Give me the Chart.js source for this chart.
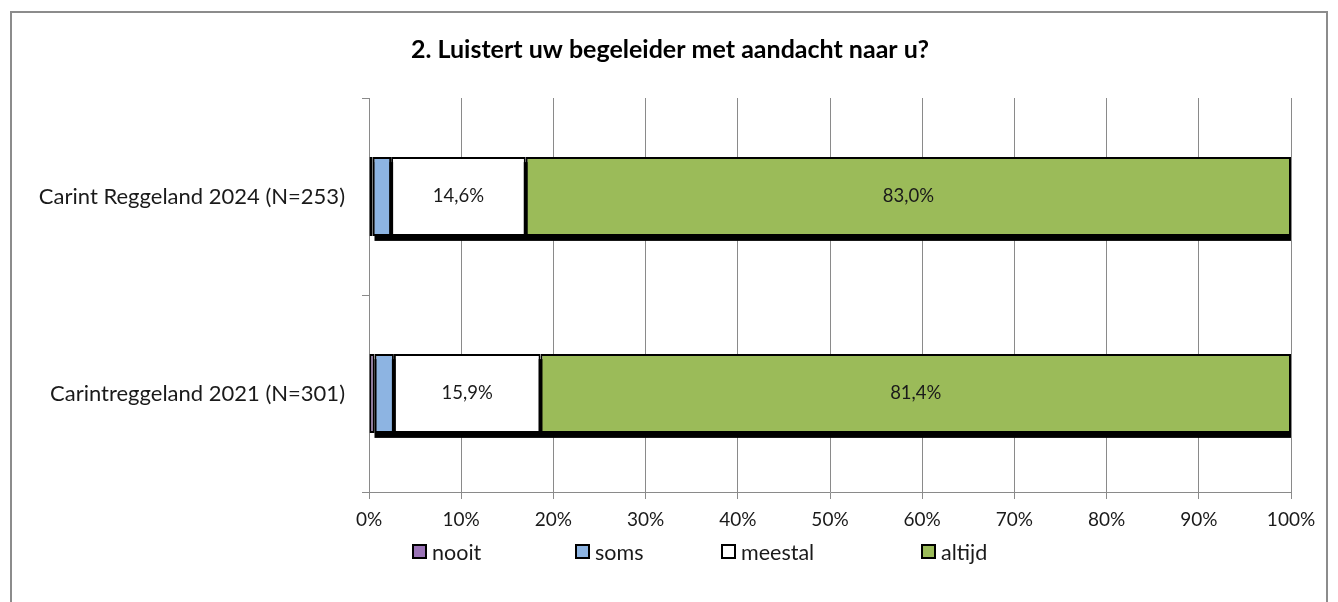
<!DOCTYPE html>
<html>
<head>
<meta charset="utf-8">
<script src="https://cdn.jsdelivr.net/npm/chart.js@4.4.1/dist/chart.umd.min.js"></script>
<style>
    html, body { margin: 0; padding: 0; background: #fff; }
    #wrap { position: relative; width: 1338px; height: 602px; overflow: hidden; }
    #frame { position: absolute; left: 10px; top: 11px; width: 1318px; height: 620px; border: 2px solid #8c8c8c; box-sizing: border-box; }
    canvas { position: absolute; left: 0; top: 0; }
</style>
</head>
<body>
<div id="wrap">
    <div id="frame"></div>
    <canvas id="chart" width="1338" height="602"></canvas>
</div>
<script>
// Chart data
const chartTitle = '2. Luistert uw begeleider met aandacht naar u?';
const categories = ['Carint Reggeland 2024 (N=253)', 'Carintreggeland 2021 (N=301)'];
const seriesNames = ['nooit', 'soms', 'meestal', 'altijd'];
const nooit = [0.4, 0.6];
const soms = [2.0, 2.1];
const meestal = [14.6, 15.9];
const altijd = [83.0, 81.4];
const seriesColors = ['#9a73b6', '#8db4e2', '#ffffff', '#9bbb59'];
const labelledSeries = ['meestal', 'altijd'];
const xTicks = [0, 10, 20, 30, 40, 50, 60, 70, 80, 90, 100];

const fontFamily = 'Lato, "Liberation Sans", sans-serif';
const gridColor = '#8a8a8a';
const textColor = '#1a1a1a';

// Title and legend placement (layout only)
const titlePos = { x: 670, y: 50 };
const legendX = [413, 576, 722, 922];
const legendY = 552;

function fmtPct(v) {
    return v.toFixed(1).replace('.', ',') + '%';
}

// Black drop shadow behind each stacked bar
const shadowPlugin = {
    id: 'barShadow',
    beforeDatasetsDraw(chart) {
        const ctx = chart.ctx;
        const area = chart.chartArea;
        const first = chart.getDatasetMeta(0).data;
        const last = chart.getDatasetMeta(chart.data.datasets.length - 1).data;
        ctx.save();
        ctx.beginPath();
        ctx.rect(area.left, area.top, area.right - area.left, area.bottom - area.top + 10);
        ctx.clip();
        ctx.fillStyle = '#000';
        first.forEach((bar, i) => {
            const left = Math.min(bar.base, bar.x);
            const right = last[i].x;
            const top = bar.y - bar.height / 2;
            ctx.fillRect(left + 5, top + 5, right - left, bar.height);
        });
        ctx.restore();
    }
};

// Percent labels inside segments
const valueLabelPlugin = {
    id: 'valueLabels',
    afterDatasetsDraw(chart) {
        const ctx = chart.ctx;
        ctx.save();
        ctx.font = '18.5px ' + fontFamily;
        ctx.fillStyle = textColor;
        ctx.textAlign = 'center';
        ctx.textBaseline = 'middle';
        chart.data.datasets.forEach((ds, di) => {
            if (!labelledSeries.includes(ds.label)) return;
            chart.getDatasetMeta(di).data.forEach((bar, i) => {
                const cx = (bar.base + bar.x) / 2;
                ctx.fillText(fmtPct(ds.data[i]), cx, bar.y);
            });
        });
        ctx.restore();
    }
};

// Title and legend drawn like the spreadsheet chart
const sheetPlugin = {
    id: 'sheetDecor',
    afterDraw(chart) {
        const ctx = chart.ctx;
        ctx.save();
        ctx.font = 'bold 25px ' + fontFamily;
        ctx.fillStyle = '#000';
        ctx.textAlign = 'center';
        ctx.textBaseline = 'middle';
        ctx.fillText(chartTitle, titlePos.x, titlePos.y);

        ctx.font = '21.5px ' + fontFamily;
        ctx.textAlign = 'left';
        chart.data.datasets.forEach((ds, i) => {
            const x = legendX[i];
            ctx.fillStyle = ds.backgroundColor;
            ctx.fillRect(x, legendY - 7, 13, 13);
            ctx.strokeStyle = '#000';
            ctx.lineWidth = 2;
            ctx.strokeRect(x, legendY - 7, 13, 13);
            ctx.fillStyle = textColor;
            ctx.fillText(ds.label, x + 19, legendY + 1);
        });
        ctx.restore();
    }
};

const seriesData = [nooit, soms, meestal, altijd];

new Chart(document.getElementById('chart').getContext('2d'), {
    type: 'bar',
    data: {
        labels: categories,
        datasets: seriesNames.map((name, i) => ({
            label: name,
            data: seriesData[i],
            backgroundColor: seriesColors[i],
            borderColor: '#000',
            borderWidth: 2,
            borderSkipped: false,
            categoryPercentage: 1,
            barPercentage: 0.4
        }))
    },
    options: {
        indexAxis: 'y',
        responsive: false,
        animation: false,
        layout: {
            padding: { left: 0, right: 47, top: 98, bottom: 0 }
        },
        plugins: {
            legend: { display: false },
            tooltip: { enabled: false },
            title: { display: false }
        },
        scales: {
            x: {
                stacked: true,
                min: 0,
                max: 100,
                afterFit(scale) { scale.height = 110; },
                afterBuildTicks(scale) { scale.ticks = xTicks.map(v => ({ value: v })); },
                grid: { color: gridColor, tickLength: 7, lineWidth: 1 },
                border: { color: gridColor },
                ticks: {
                    padding: 9,
                    color: textColor,
                    font: { family: fontFamily, size: 19 },
                    callback: v => v + '%'
                }
            },
            y: {
                stacked: true,
                afterFit(scale) { scale.width = 369; },
                grid: { drawOnChartArea: false, offset: true, color: gridColor, tickLength: 7 },
                border: { color: gridColor },
                ticks: {
                    padding: 17,
                    color: textColor,
                    font: { family: fontFamily, size: 22 }
                }
            }
        }
    },
    plugins: [shadowPlugin, valueLabelPlugin, sheetPlugin]
});
</script>
</body>
</html>
